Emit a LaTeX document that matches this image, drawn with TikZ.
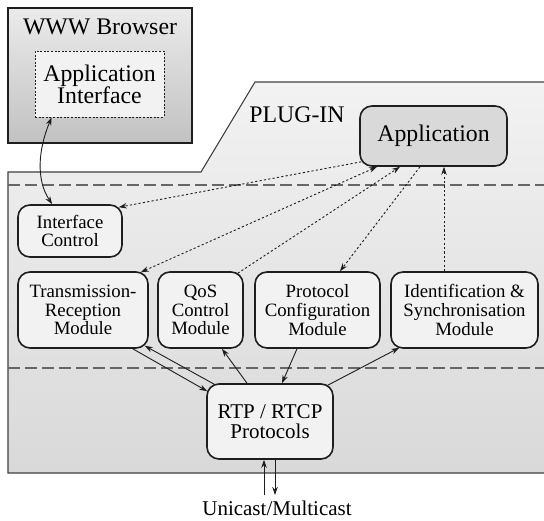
\documentclass[tikz,border=0pt]{standalone}
\usepackage{fontspec}
\setmainfont{Liberation Serif}
\newfontfamily\tnr{Liberation Serif}
\usetikzlibrary{arrows.meta}
\definecolor{nodefill}{HTML}{F2F2F3}
\definecolor{appfill}{HTML}{D9D9D9}
\definecolor{edgecol}{HTML}{1E1E1E}
\definecolor{sepcol}{HTML}{666666}
\tikzset{
  tip/.style={-{Stealth[length=8pt,width=5.5pt]}},
  module/.style={draw=edgecol, line width=1.6pt, rounded corners=12pt, fill=nodefill,
    inner sep=0pt, align=center, font=\tnr\fontsize{18.8}{18.6}\selectfont},
  bigtext/.style={inner sep=0pt, align=center, font=\tnr\fontsize{23.8}{22}\selectfont},
  midtext/.style={inner sep=0pt, align=center, font=\tnr\fontsize{21}{20}\selectfont},
  dotarrow/.style={line width=0.9pt, dash pattern=on 2.2pt off 2.2pt, draw=edgecol},
  solidarrow/.style={line width=0.9pt, draw=edgecol},
  sepline/.style={draw=sepcol, line width=1.8pt, dash pattern=on 12pt off 5pt},
}
\begin{document}
\begin{tikzpicture}[x=1pt,y=-1pt]
\useasboundingbox (0,0) rectangle (544,520);
\fill[white] (0,0) rectangle (544,520);

% plug-in region
\draw[draw=edgecol!85, line width=1.1pt, top color=black!5, bottom color=black!15]
  (8,172) -- (201,172) -- (255,82) -- (548,82) -- (548,473) -- (8,473) -- cycle;
\node[bigtext] (plug) at (297,115) {PLUG-IN};

% separators
\draw[sepline] (8,185) -- (546,185);
\draw[sepline] (8,368) -- (546,368);

% browser
\node[draw=edgecol, line width=2.6pt, top color=black!8, bottom color=black!24,
  minimum width=184pt, minimum height=135pt, inner sep=0pt] (br) at (100,75.5) {};
\node[bigtext] (brt) at (100,27) {WWW Browser};
\node[draw=edgecol, line width=0.8pt, dash pattern=on 2pt off 1.6pt, fill=black!5,
  minimum width=129pt, minimum height=66pt, bigtext] (ai) at (99.5,84) {Application\\Interface};

% nodes
\node[module, fill=appfill, minimum width=147pt, minimum height=60pt,
  font=\tnr\fontsize{23.8}{22}\selectfont] (app) at (433.5,136) {Application};
\node[module, minimum width=104pt, minimum height=52pt] (ic) at (70,231) {Interface\\Control};
\node[module, minimum width=130pt, minimum height=76pt] (tr) at (83,310) {Transmission-\\Reception\\Module};
\node[module, minimum width=85pt, minimum height=76pt] (qos) at (200.5,310) {QoS\\Control\\Module};
\node[module, minimum width=125pt, minimum height=76pt] (pc) at (317.5,310) {Protocol\\Configuration\\Module};
\node[module, minimum width=147pt, minimum height=76pt] (id) at (464.5,310) {Identification \&\\Synchronisation\\Module};
\node[module, minimum width=126pt, minimum height=75pt, font=\tnr\fontsize{21}{20}\selectfont] (rtp) at (270,421.5) {RTP / RTCP\\Protocols};
\node[midtext] (uni) at (277,508) {Unicast/Multicast};
\coordinate (u1) at (264,495);
\coordinate (u2) at (275,495);

% curved link browser interface <-> interface control
\draw[solidarrow, {Stealth[length=8pt,width=5.5pt]}-{Stealth[length=8pt,width=5.5pt]}]
  ([xshift=17pt]ai.south west) .. controls (38,150) and (36,180) .. ([xshift=35pt]ic.north west);

% dotted links with application
\draw[dotarrow, tip] ([shift={(2,-5)}]app.south west) -- ([shift={(-4,3)}]ic.north east);
\draw[dotarrow, {Stealth[length=8pt,width=5.5pt]}-{Stealth[length=8pt,width=5.5pt]}]
  ([shift={(-8,1)}]tr.north east) -- ([xshift=-56.5pt]app.south);
\draw[dotarrow, tip] ([shift={(-6,2)}]qos.north east) -- ([xshift=-33.5pt]app.south);
\draw[dotarrow, tip] ([xshift=-13.5pt]app.south) -- ([xshift=22.5pt]pc.north);
\draw[dotarrow, tip] ([xshift=-20.5pt]id.north) -- ([xshift=10.5pt]app.south);

% solid links with RTP
\draw[solidarrow, tip] ([xshift=-16pt]tr.south east) -- ([shift={(1,8)}]rtp.north west);
\draw[solidarrow, tip] ([shift={(8,1)}]rtp.north west) -- ([shift={(-4,-3)}]tr.south east);
\draw[solidarrow, tip] ([xshift=-23pt]rtp.north) -- ([xshift=21.5pt]qos.south);
\draw[solidarrow, tip] ([xshift=-20.5pt]pc.south) -- ([xshift=12pt]rtp.north);
\draw[solidarrow, tip] ([shift={(-6,2)}]rtp.north east) -- ([shift={(9,-1)}]id.south west);
\draw[solidarrow, tip] (u1) -- ([xshift=-6pt]rtp.south);
\draw[solidarrow, tip] ([xshift=5pt]rtp.south) -- (u2);
\end{tikzpicture}
\end{document}
